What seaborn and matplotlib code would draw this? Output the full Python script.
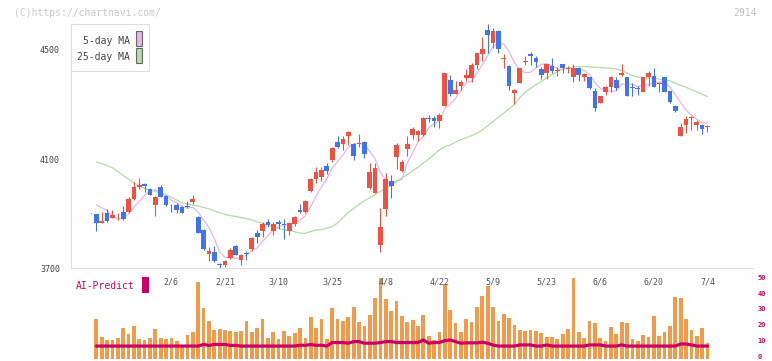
import numpy as np
import pandas as pd
import matplotlib
matplotlib.use('Agg')
import matplotlib.pyplot as plt
from matplotlib.patches import Rectangle
from matplotlib.transforms import ScaledTranslation
import seaborn as sns

# daily candles, 2025-01-16 .. 2025-07-04 (index 0 has no volume / prediction)
opens = [3901, 3899, 3866, 3902, 3886, 3890, 3906, 3906, 3953, 3997,
         4008, 3991, 3932, 3997, 3966, 3925, 3932, 3926, 3930, 3944,
         3887, 3841, 3752, 3760, 3714, 3712, 3737, 3782, 3731, 3755,
         3770, 3828, 3837, 3869, 3838, 3868, 3861, 3838, 3863, 3914,
         3905, 3984, 4027, 4036, 4075, 4097, 4163, 4156, 4183, 4156,
         4156, 4163, 3993, 3977, 3786, 3919, 4021, 4109, 4058, 4136,
         4190, 4189, 4189, 4250, 4250, 4238, 4295, 4390, 4339, 4368,
         4396, 4399, 4443, 4485, 4573, 4527, 4570, 4467, 4441, 4341,
         4380, 4454, 4485, 4472, 4431, 4417, 4441, 4421, 4449, 4429,
         4402, 4433, 4400, 4400, 4351, 4307, 4347, 4363, 4390, 4409,
         4400, 4363, 4360, 4347, 4402, 4405, 4376, 4402, 4350, 4295,
         4183, 4225, 4250, 4225, 4225, 4217]
highs = [3904, 3900, 3907, 3916, 3913, 3902, 3927, 3963, 4015, 4030,
         4012, 3995, 3965, 4006, 3968, 3936, 3941, 3928, 3948, 3969,
         3890, 3843, 3777, 3782, 3721, 3731, 3774, 3786, 3751, 3765,
         3814, 3841, 3871, 3881, 3871, 3877, 3881, 3868, 3890, 3936,
         3949, 4030, 4071, 4070, 4085, 4144, 4183, 4185, 4203, 4158,
         4192, 4165, 4085, 4085, 3922, 4048, 4040, 4158, 4097, 4183,
         4219, 4207, 4256, 4262, 4258, 4268, 4417, 4408, 4386, 4390,
         4431, 4451, 4490, 4549, 4595, 4580, 4572, 4485, 4445, 4357,
         4433, 4478, 4494, 4478, 4439, 4449, 4470, 4439, 4449, 4441,
         4447, 4439, 4417, 4400, 4360, 4332, 4368, 4405, 4400, 4449,
         4400, 4378, 4368, 4402, 4423, 4435, 4384, 4402, 4350, 4298,
         4234, 4258, 4258, 4244, 4229, 4225]
lows = [3900, 3838, 3866, 3870, 3884, 3877, 3878, 3904, 3951, 3990,
        3981, 3968, 3892, 3960, 3930, 3908, 3904, 3902, 3920, 3936,
        3829, 3768, 3725, 3723, 3700, 3706, 3733, 3747, 3712, 3731,
        3765, 3792, 3816, 3853, 3822, 3843, 3808, 3822, 3855, 3902,
        3903, 3981, 4012, 4018, 4045, 4091, 4142, 4134, 4152, 4095,
        4145, 4103, 3991, 3975, 3761, 3890, 3959, 4063, 4054, 4113,
        4173, 4168, 4183, 4237, 4216, 4213, 4295, 4332, 4337, 4354,
        4386, 4384, 4431, 4460, 4488, 4506, 4490, 4433, 4354, 4302,
        4378, 4445, 4445, 4439, 4394, 4394, 4415, 4405, 4415, 4415,
        4384, 4388, 4388, 4356, 4277, 4305, 4335, 4347, 4354, 4405,
        4332, 4332, 4335, 4347, 4368, 4363, 4347, 4347, 4307, 4274,
        4183, 4195, 4207, 4207, 4193, 4201]
closes = [3903, 3865, 3874, 3873, 3895, 3891, 3880, 3953, 3997, 4006,
          4000, 3969, 3963, 3963, 3932, 3923, 3914, 3904, 3926, 3954,
          3831, 3770, 3764, 3725, 3712, 3727, 3767, 3749, 3749, 3752,
          3810, 3816, 3861, 3857, 3861, 3862, 3857, 3865, 3887, 3908,
          3947, 4027, 4053, 4060, 4058, 4139, 4146, 4174, 4201, 4113,
          4158, 4119, 4051, 4069, 3853, 4027, 4003, 4152, 4091, 4156,
          4211, 4203, 4250, 4248, 4238, 4262, 4417, 4339, 4354, 4383,
          4408, 4443, 4490, 4504, 4555, 4570, 4504, 4470, 4368, 4353,
          4433, 4461, 4476, 4454, 4409, 4449, 4423, 4427, 4433, 4435,
          4435, 4409, 4412, 4360, 4286, 4332, 4366, 4402, 4360, 4417,
          4332, 4360, 4356, 4400, 4417, 4363, 4380, 4347, 4311, 4278,
          4217, 4247, 4253, 4235, 4211, 4219]

ma5 = [np.nan,
       3932, 3922, 3912, 3890, 3881, 3884, 3899, 3924, 3946, 3967,
       3985, 3987, 3980, 3965, 3950, 3939, 3927, 3920, 3924, 3906,
       3877, 3849, 3809, 3760, 3740, 3739, 3736, 3741, 3749, 3765,
       3775, 3798, 3819, 3841, 3851, 3860, 3860, 3866, 3876, 3893,
       3927, 3964, 3999, 4029, 4067, 4091, 4115, 4144, 4155, 4158,
       4153, 4128, 4102, 4050, 4024, 4001, 4021, 4025, 4086, 4123,
       4163, 4182, 4214, 4230, 4240, 4283, 4301, 4322, 4351, 4380,
       4385, 4416, 4446, 4480, 4512, 4525, 4521, 4493, 4453, 4426,
       4417, 4418, 4435, 4447, 4450, 4442, 4432, 4428, 4433, 4431,
       4428, 4425, 4410, 4380, 4360, 4351, 4349, 4349, 4375, 4375,
       4374, 4365, 4373, 4373, 4379, 4383, 4381, 4364, 4336, 4307,
       4280, 4261, 4246, 4233, 4233]
ma25 = [np.nan,
        4090, 4083, 4077, 4068, 4055, 4040, 4027, 4014, 4003, 3993,
        3986, 3982, 3977, 3970, 3960, 3950, 3940, 3936, 3931, 3928,
        3923, 3918, 3910, 3904, 3897, 3893, 3890, 3886, 3882, 3877,
        3870, 3865, 3858, 3852, 3847, 3841, 3838, 3834, 3829, 3828,
        3835, 3840, 3842, 3847, 3853, 3866, 3886, 3905, 3920, 3934,
        3947, 3959, 3970, 3982, 3993, 4003, 4017, 4031, 4043, 4057,
        4070, 4086, 4100, 4117, 4134, 4145, 4152, 4162, 4171, 4178,
        4186, 4195, 4207, 4222, 4238, 4254, 4268, 4285, 4300, 4325,
        4345, 4360, 4372, 4385, 4397, 4410, 4420, 4430, 4434, 4438,
        4439, 4439, 4438, 4437, 4435, 4434, 4433, 4430, 4425, 4415,
        4406, 4401, 4399, 4397, 4396, 4393, 4390, 4387, 4378, 4370,
        4363, 4355, 4347, 4338, 4329]

volume = [np.nan,
          24.4, 13.2, 11.1, 11.1, 12.3, 18.7, 14.9, 19.9, 11.7, 11.1,
          12.4, 17.9, 12.4, 11.6, 12.4, 10.4, 7.9, 14.4, 16.0, 47.4,
          31.3, 23.1, 17.5, 18.0, 17.4, 16.8, 16.1, 16.8, 23.1, 16.1,
          18.7, 24.4, 12.3, 16.1, 11.7, 16.8, 13.6, 15.5, 18.7, 12.0,
          25.6, 18.7, 24.4, 11.7, 31.3, 24.4, 23.1, 25.6, 32.0, 22.5,
          19.9, 26.9, 37.6, 49.7, 37.0, 29.4, 35.7, 26.3, 22.5, 23.7,
          19.9, 26.9, 13.6, 11.1, 16.1, 45.9, 30.1, 21.8, 16.1, 24.4,
          22.5, 31.8, 38.9, 45.2, 31.8, 23.0, 27.6, 25.0, 20.6, 17.3,
          16.7, 17.4, 16.8, 15.5, 13.0, 13.0, 11.7, 14.9, 18.0, 49.7,
          16.1, 12.3, 23.1, 22.0, 12.3, 10.4, 19.3, 14.9, 22.5, 22.0,
          11.7, 10.4, 14.2, 13.0, 26.3, 13.6, 16.1, 19.9, 38.3, 37.6,
          24.4, 17.4, 13.6, 18.7, 9.2]
ai_predict = [np.nan,
              7.2, 7.2, 7.2, 7.2, 7.2, 7.2, 7.2, 7.2, 7.2, 7.2,
              7.2, 7.2, 7.2, 7.2, 7.2, 7.2, 7.2, 7.2, 7.2, 7.2,
              8.2, 7.6, 8.2, 8.2, 8.2, 7.6, 7.6, 7.2, 7.2, 7.2,
              7.2, 7.2, 7.2, 7.2, 7.2, 7.2, 7.2, 7.2, 7.7, 7.7,
              8.1, 7.7, 7.7, 7.2, 9.4, 9.4, 9.4, 9.0, 10.0, 10.0,
              9.0, 9.0, 9.0, 9.4, 10.0, 10.0, 9.4, 9.4, 9.4, 9.4,
              9.4, 11.0, 9.0, 9.4, 9.4, 10.6, 11.0, 10.0, 9.0, 9.2,
              9.2, 9.2, 9.6, 9.0, 7.8, 7.2, 7.2, 7.2, 7.2, 7.9,
              7.9, 7.9, 7.2, 7.2, 7.9, 7.2, 7.2, 7.2, 7.2, 7.2,
              7.2, 7.2, 7.9, 7.9, 7.9, 7.2, 7.2, 7.2, 7.9, 7.2,
              7.2, 7.2, 7.2, 7.2, 7.2, 7.2, 7.2, 7.2, 7.2, 8.5,
              8.5, 7.9, 7.2, 7.2, 7.2]

date_labels = ['2/6', '2/21', '3/10', '3/25', '4/8', '4/22',
               '5/9', '5/23', '6/6', '6/20', '7/4']
date_index = [15, 25, 35, 45, 55, 65, 75, 85, 95, 105, 115]
price_ticks = [3700, 4100, 4500]
ai_ticks = [0, 10, 20, 30, 40, 50]

RED = '#f2503f'
BLUE = '#3f74ee'
PINK = '#e8b4ea'
GREEN = '#b4dba6'
ORANGE = '#f2994a'
CRIMSON = '#cc0066'
GRID = '#dedede'

df = pd.DataFrame({'open': opens, 'high': highs, 'low': lows, 'close': closes,
                   'ma5': ma5, 'ma25': ma25, 'vol': volume, 'ai': ai_predict})
df['i'] = np.arange(len(df))

sns.set_style('white')
plt.rcParams['font.family'] = ['DejaVu Sans Mono']

W, H = 772, 361
fig = plt.figure(figsize=(W / 100, H / 100), dpi=100)


def box(x0, y0, x1, y1):
    return [x0 / W, 1 - y1 / H, (x1 - x0) / W, (y1 - y0) / H]


def fx(x):
    return x / W


def fy(y):
    return 1 - y / H


ax = fig.add_axes(box(70.5, 24, 752.5, 268.3))
axv = fig.add_axes(box(70.5, 270, 752.5, 361))

xlo, xhi = -3.82, 123.4

# moving averages
sns.lineplot(data=df, x='i', y='ma5', ax=ax, color=PINK, linewidth=0.9, zorder=2)
sns.lineplot(data=df, x='i', y='ma25', ax=ax, color=GREEN, linewidth=0.9, zorder=2)

# candles
up = df['close'] >= df['open']
cols = np.where(up, RED, BLUE)
ax.vlines(df['i'], df['low'], df['high'], colors=cols, linewidth=0.8, zorder=3)
body_lo = np.minimum(df['open'], df['close'])
body_h = np.maximum((df['close'] - df['open']).abs(), 3)
ax.bar(df['i'], body_h, bottom=body_lo, width=0.88, color=cols, linewidth=0, zorder=4)

ax.set_xlim(xlo, xhi)
ax.set_ylim(3700, 4595)
ax.set_xlabel('')
ax.set_ylabel('')
ax.set_yticks(price_ticks)
ax.set_yticklabels([str(t) for t in price_ticks])
ax.set_xticks([xlo + (xhi - xlo) * k / 11 for k in range(1, 12)])
ax.set_xticklabels([])
ax.tick_params(axis='x', direction='in', length=2.6, width=0.8, color=GRID)
ax.tick_params(axis='y', direction='out', length=3.6, width=0.8, color=GRID,
               labelsize=6, labelcolor='#444444', pad=4)
for s in ['top', 'right']:
    ax.spines[s].set_visible(False)
for s in ['left', 'bottom']:
    ax.spines[s].set_color(GRID)
    ax.spines[s].set_linewidth(0.8)

# volume bars + AI prediction line (bars reach a hair below zero, as in the source)
vmask = df['vol'].notna()
axv.bar(df['i'][vmask], df['vol'][vmask] + 1.0, bottom=-1.0, width=0.7,
        color=ORANGE, linewidth=0, zorder=2)
sns.lineplot(data=df, x='i', y='ai', ax=axv, color=CRIMSON, linewidth=2.3, zorder=3)
axv.set_xlim(xlo, xhi)
axv.set_ylim(-2.2, 55.0)
axv.set_xlabel('')
axv.set_ylabel('')
axv.set_xticks([])
axv.yaxis.tick_right()
axv.set_yticks(ai_ticks)
axv.set_yticklabels([str(t) for t in ai_ticks])
axv.tick_params(axis='y', length=0, labelsize=5, labelcolor=CRIMSON, pad=3.5)
lift = ScaledTranslation(0, 0.8 / 100, fig.dpi_scale_trans)
for lab in axv.get_yticklabels():
    lab.set_fontweight('bold')
    lab.set_transform(lab.get_transform() + lift)
for s in axv.spines.values():
    s.set_visible(False)
axv.patch.set_alpha(0)

for pos, lab in zip(date_index, date_labels):
    axv.text(pos, 47.5, lab, ha='center', va='center', fontsize=6, color='#555555')

# legend box
fig.add_artist(Rectangle((fx(70.5), fy(71.3)), (148.5 - 70.5) / W, (71.3 - 24) / H,
                         transform=fig.transFigure, facecolor='white',
                         edgecolor=GRID, linewidth=0.8, zorder=5))
fig.add_artist(Rectangle((fx(136.3), fy(46.3)), 6 / W, 15 / H, transform=fig.transFigure,
                         facecolor=PINK, edgecolor='#666666', linewidth=0.8, zorder=6))
fig.add_artist(Rectangle((fx(136.3), fy(63.3)), 6 / W, 15 / H, transform=fig.transFigure,
                         facecolor=GREEN, edgecolor='#666666', linewidth=0.8, zorder=6))
fig.text(fx(129.7), fy(40.7), '5-day MA', ha='right', va='center', fontsize=7,
         color='#444444', zorder=7)
fig.text(fx(129.7), fy(57.3), '25-day MA', ha='right', va='center', fontsize=7,
         color='#444444', zorder=7)

# AI-Predict label
fig.text(fx(75.7), fy(286), 'AI-Predict', ha='left', va='center', fontsize=7, color=CRIMSON)
fig.add_artist(Rectangle((fx(142), fy(293)), 7 / W, 16 / H, transform=fig.transFigure,
                         facecolor=CRIMSON, edgecolor='none'))

# watermark and code
fig.text(fx(14), fy(12.5), '(C)https://chartnavi.com/', ha='left', va='center',
         fontsize=7, color='#c8c8c8')
fig.text(fx(757), fy(12.5), '2914', ha='right', va='center', fontsize=7, color='#c0c0c0')

fig.savefig('out.png', dpi=100, facecolor='white')
